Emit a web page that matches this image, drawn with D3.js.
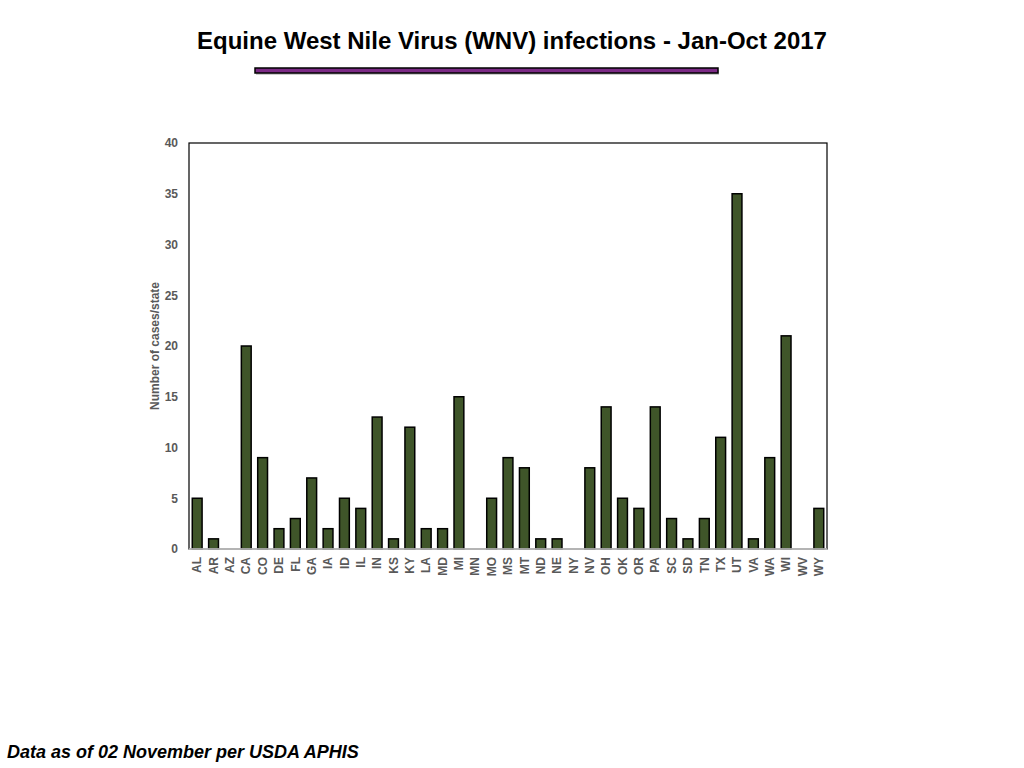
<!DOCTYPE html>
<html>
<head>
<meta charset="utf-8">
<script src="https://cdn.jsdelivr.net/npm/d3@7"></script>
<style>
  body { margin: 0; background: #fff; }
  text { font-family: "Liberation Sans", Arial, sans-serif; }
</style>
</head>
<body>
<script>
const width = 1024
const height = 768
const margin = {top: 143, left: 189, bottom: 219, right: 197}
const barColor = '#3f5529'

const states = ['AL', 'AR', 'AZ', 'CA', 'CO', 'DE', 'FL', 'GA', 'IA', 'ID', 'IL', 'IN', 'KS',
  'KY', 'LA', 'MD', 'MI', 'MN', 'MO', 'MS', 'MT', 'ND', 'NE', 'NY', 'NV', 'OH', 'OK', 'OR',
  'PA', 'SC', 'SD', 'TN', 'TX', 'UT', 'VA', 'WA', 'WI', 'WV', 'WY']
const cases = [5, 1, 0, 20, 9, 2, 3, 7, 2, 5, 4, 13, 1,
  12, 2, 2, 15, 0, 5, 9, 8, 1, 1, 0, 8, 14, 5, 4,
  14, 3, 1, 3, 11, 35, 1, 9, 21, 0, 4]
const yTicks = [0, 5, 10, 15, 20, 25, 30, 35, 40]

const title = 'Equine West Nile Virus (WNV) infections - Jan-Oct 2017'
const footnote = 'Data as of 02 November per USDA APHIS'
const yLabel = 'Number of cases/state'

const data = states.map((s, i) => ({state: s, value: cases[i]}))

let svg = d3.select('body')
            .append('svg')
            .attr('width', width)
            .attr('height', height)

// title + purple rule under it
svg.append('text')
   .attr('x', 512)
   .attr('y', 49)
   .attr('text-anchor', 'middle')
   .style('font-size', '24px')
   .style('font-weight', 'bold')
   .attr('fill', '#000')
   .text(title)

svg.append('rect')
   .attr('x', 256).attr('y', 70).attr('width', 463).attr('height', 5)
   .attr('fill', '#cccccc')
svg.append('rect')
   .attr('x', 255).attr('y', 68).attr('width', 463).attr('height', 5)
   .attr('fill', '#7b2a85')
   .attr('stroke', '#000')
   .attr('stroke-width', 1.5)

let x = d3.scaleBand()
          .domain(states)
          .range([margin.left, width - margin.right])
          .paddingInner(0.4)
          .paddingOuter(0.2)

let y = d3.scaleLinear()
          .domain([0, 40])
          .range([height - margin.bottom, margin.top])

// frame
svg.append('rect')
   .attr('x', margin.left)
   .attr('y', margin.top)
   .attr('width', width - margin.right - margin.left)
   .attr('height', height - margin.bottom - margin.top)
   .attr('fill', 'none')
   .attr('stroke', '#000')
   .attr('stroke-width', 1.2)

svg.selectAll('.bar')
   .data(data)
   .enter()
   .append('rect')
   .attr('class', 'bar')
   .attr('x', d => x(d.state))
   .attr('y', d => y(d.value))
   .attr('width', x.bandwidth())
   .attr('height', d => y(0) - y(d.value))
   .attr('fill', barColor)
   .attr('stroke', '#000')
   .attr('stroke-width', 1.5)

// baseline (light gray)
svg.append('line')
   .attr('x1', margin.left).attr('x2', width - margin.right)
   .attr('y1', y(0)).attr('y2', y(0))
   .attr('stroke', '#cfcfcf')
   .attr('stroke-width', 1.5)

let yAxis = d3.axisLeft(y).tickValues(yTicks).tickSize(0).tickPadding(11)
let gy = svg.append('g')
            .attr('transform', `translate(${margin.left}, 0)`)
            .call(yAxis)
gy.select('.domain').remove()
gy.selectAll('text')
  .style('font-family', '"Liberation Sans", Arial, sans-serif')
  .style('font-size', '12px')
  .style('font-weight', 'bold')
  .attr('fill', '#595959')

let xAxis = d3.axisBottom(x).tickSize(0).tickPadding(0)
let gx = svg.append('g')
            .attr('transform', `translate(0, ${y(0)})`)
            .call(xAxis)
gx.select('.domain').remove()
gx.selectAll('text')
  .style('font-family', '"Liberation Sans", Arial, sans-serif')
  .style('font-size', '12px')
  .style('font-weight', 'bold')
  .attr('fill', '#595959')
  .attr('text-anchor', 'end')
  .attr('dy', '0.35em')
  .attr('transform', 'translate(0, 8) rotate(-90)')
  .attr('y', 0)
  .attr('x', 0)

svg.append('text')
   .attr('transform', `translate(159, ${(margin.top + height - margin.bottom) / 2}) rotate(-90)`)
   .attr('text-anchor', 'middle')
   .style('font-size', '12px')
   .style('font-weight', 'bold')
   .attr('fill', '#595959')
   .text(yLabel)

svg.append('text')
   .attr('x', 7)
   .attr('y', 758)
   .style('font-size', '18px')
   .style('font-weight', 'bold')
   .style('font-style', 'italic')
   .attr('fill', '#000')
   .text(footnote)
</script>
</body>
</html>
